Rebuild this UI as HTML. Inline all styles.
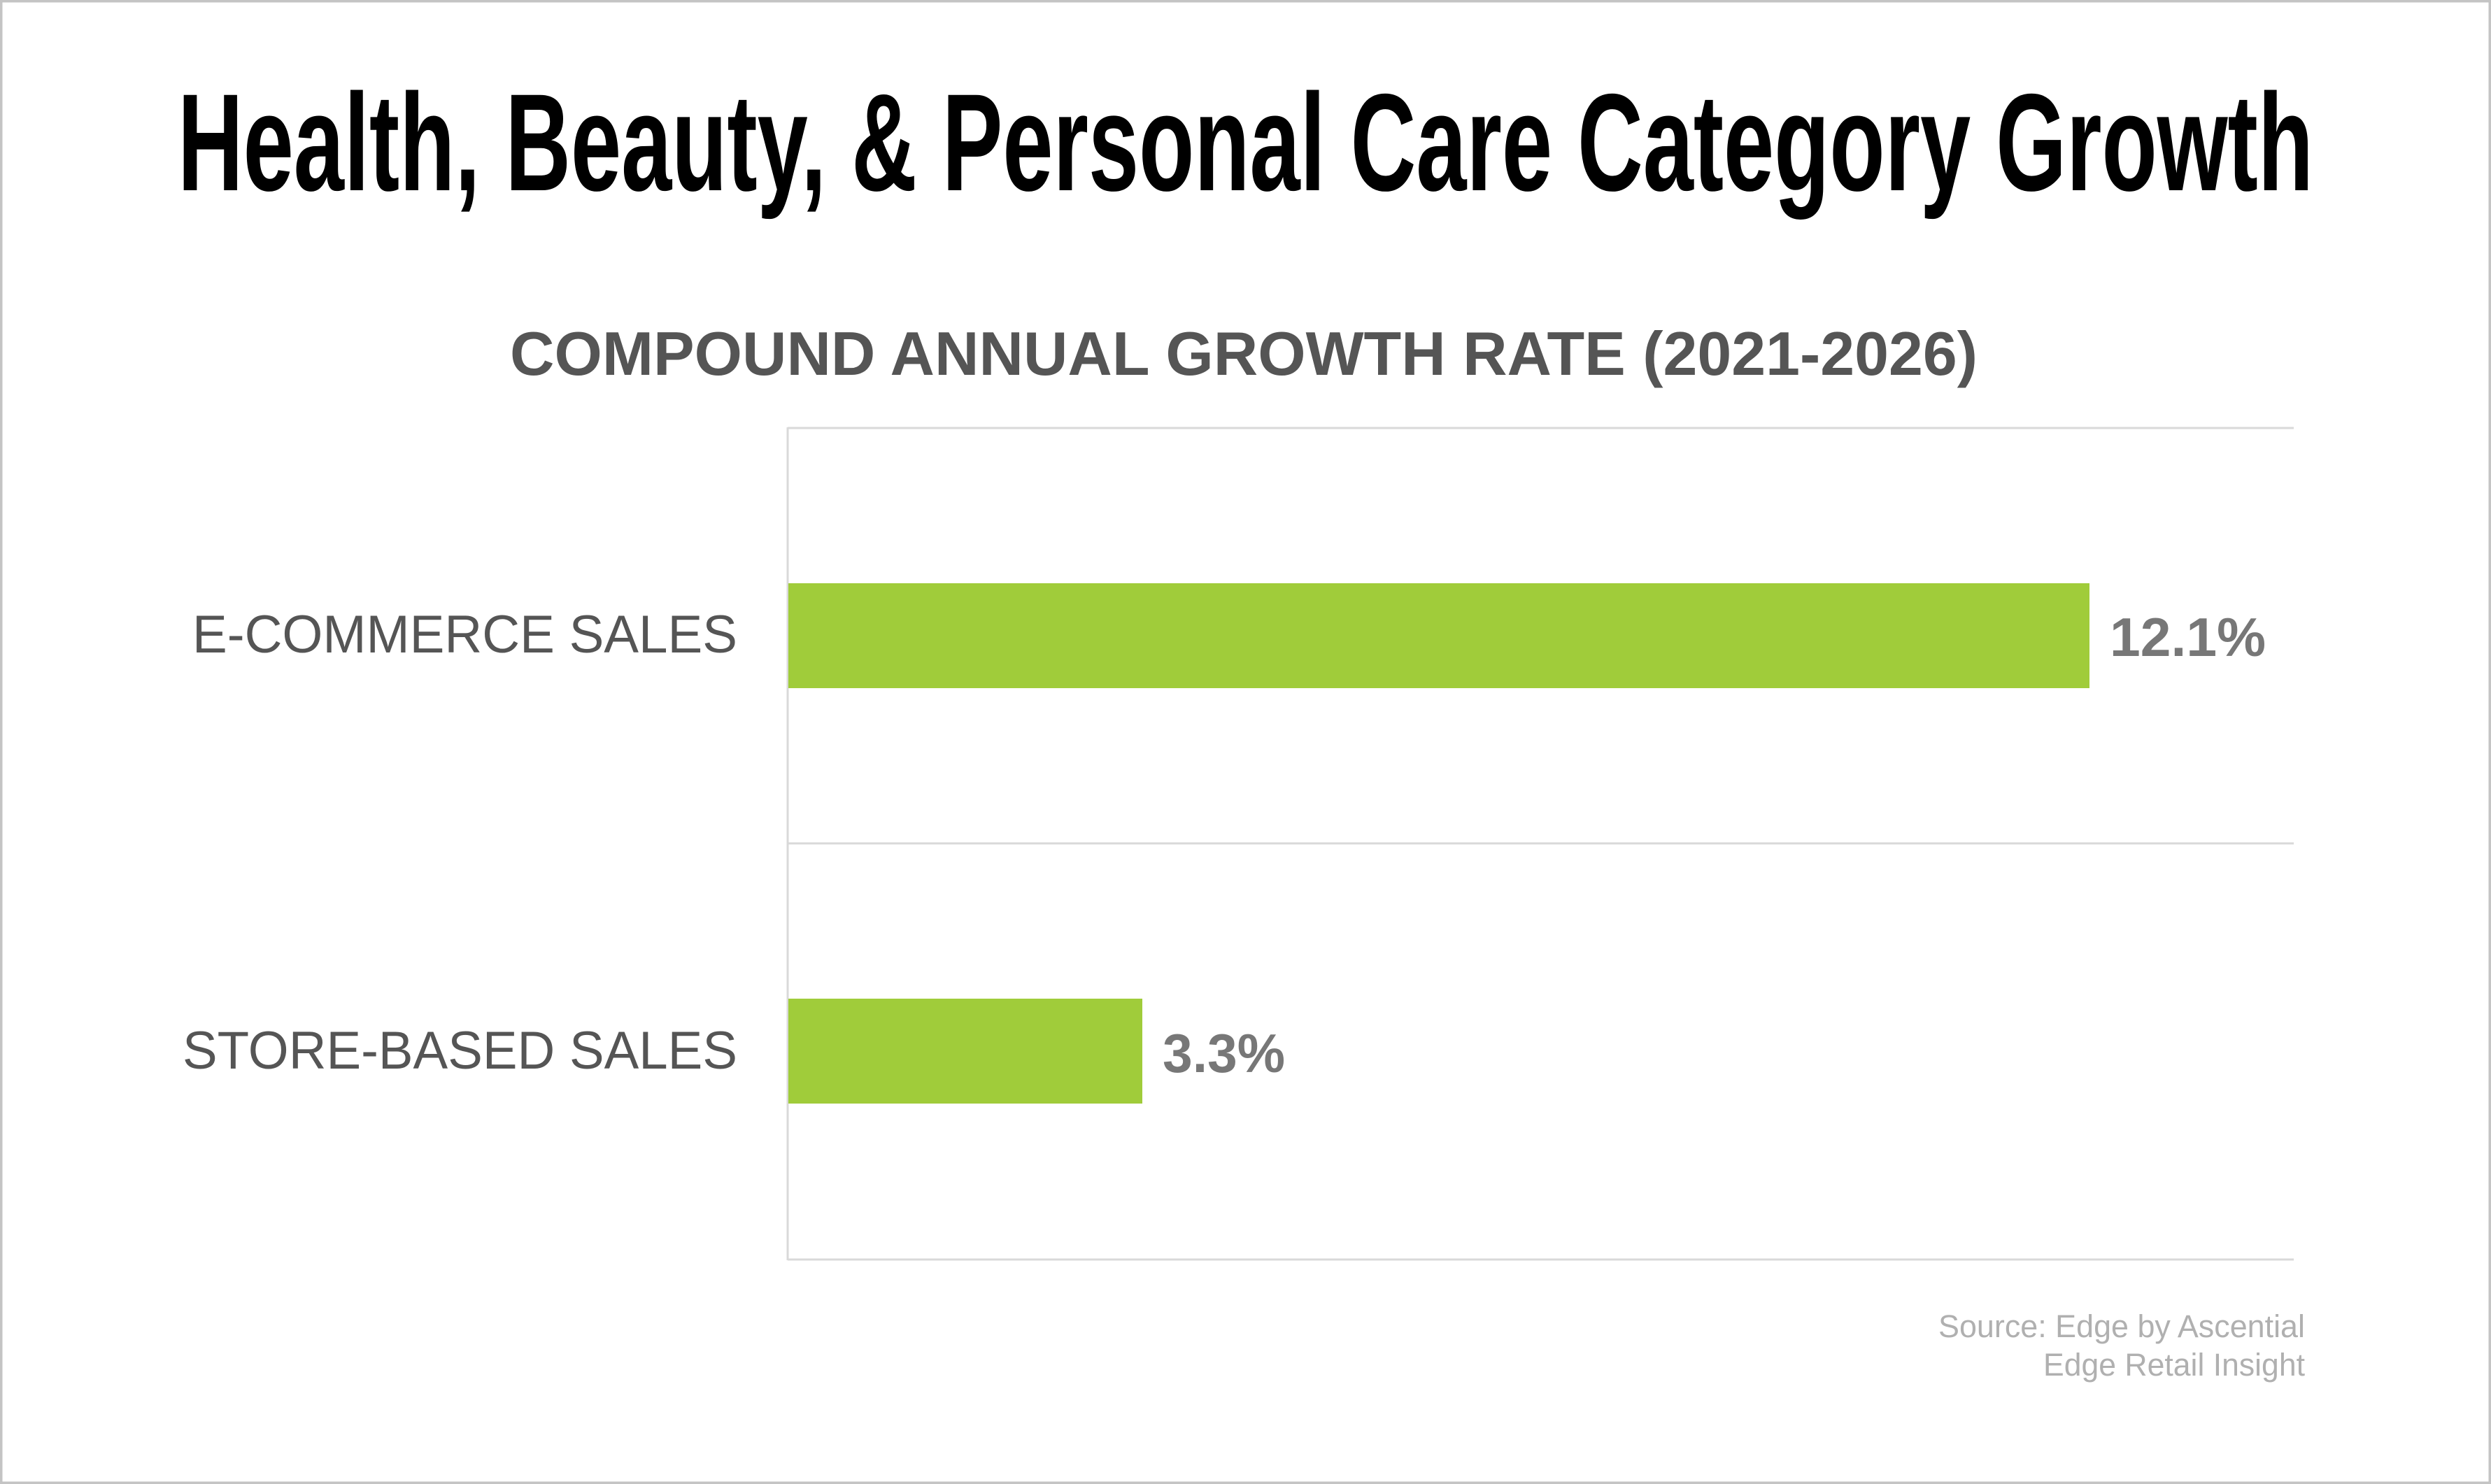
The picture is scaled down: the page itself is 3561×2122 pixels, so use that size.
<!DOCTYPE html>
<html><head><meta charset="utf-8"><style>html,body{margin:0;padding:0;background:#fff}svg{display:block}</style></head>
<body>
<svg width="3561" height="2122" viewBox="0 0 3561 2122" xmlns="http://www.w3.org/2000/svg">
<rect x="1.5" y="1.5" width="3558" height="2119" fill="#fff" stroke="#c4c4c4" stroke-width="4"/>
<text x="254" y="272" font-family="Liberation Sans, sans-serif" font-weight="bold" font-size="198" fill="#000" textLength="3053" lengthAdjust="spacingAndGlyphs">Health, Beauty, &amp; Personal Care Category Growth</text>
<text x="729" y="536" font-family="Liberation Sans, sans-serif" font-weight="bold" font-size="88" fill="#555" textLength="2098" lengthAdjust="spacingAndGlyphs">COMPOUND ANNUAL GROWTH RATE (2021-2026)</text>
<g stroke="#d9d9d9" stroke-width="3" fill="none">
<line x1="1126" y1="612" x2="3279" y2="612"/>
<line x1="1126" y1="1206" x2="3279" y2="1206"/>
<line x1="1126" y1="1801" x2="3279" y2="1801"/>
<line x1="1126" y1="611" x2="1126" y2="1802"/>
</g>
<rect x="1127" y="834" width="1860" height="150" fill="#a0cc3a"/>
<rect x="1127" y="1428" width="506" height="150" fill="#a0cc3a"/>
<text x="275" y="933" font-family="Liberation Sans, sans-serif" font-size="76" fill="#555" textLength="779" lengthAdjust="spacingAndGlyphs">E-COMMERCE SALES</text>
<text x="261" y="1528" font-family="Liberation Sans, sans-serif" font-size="76" fill="#555" textLength="793" lengthAdjust="spacingAndGlyphs">STORE-BASED SALES</text>
<text x="3016" y="938" font-family="Liberation Sans, sans-serif" font-weight="bold" font-size="78" fill="#777" textLength="223" lengthAdjust="spacingAndGlyphs">12.1%</text>
<text x="1662" y="1533" font-family="Liberation Sans, sans-serif" font-weight="bold" font-size="78" fill="#777" textLength="175" lengthAdjust="spacingAndGlyphs">3.3%</text>
<text x="2771" y="1912" font-family="Liberation Sans, sans-serif" font-size="45" fill="#b0b0b0" textLength="524" lengthAdjust="spacingAndGlyphs">Source: Edge by Ascential</text>
<text x="2921" y="1967" font-family="Liberation Sans, sans-serif" font-size="45" fill="#b0b0b0" textLength="374" lengthAdjust="spacingAndGlyphs">Edge Retail Insight</text>
</svg>
</body></html>
